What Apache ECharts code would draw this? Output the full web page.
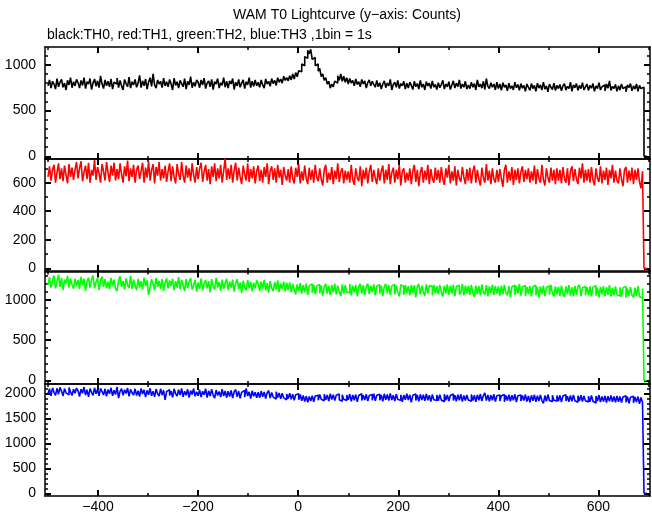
<!DOCTYPE html>
<html>
<head>
<meta charset="utf-8">
<script src="https://cdn.jsdelivr.net/npm/echarts@6/dist/echarts.min.js"></script>
<style>
html,body{margin:0;padding:0;background:#fff;}
#chart{width:652px;height:515px;}
</style>
</head>
<body>
<div id="chart"></div>
<script>
// Time bins: first bin start (s) and bin width used for the typed values below
const binStart = -500;
const binWidth = 3;

// TH0 (black) counts
const th0 = [
770,835,745,820,790,735,850,760,810,840,755,800,725,830,780,860,750,815,770,840,
805,745,830,775,860,740,815,790,850,730,800,845,765,825,750,880,790,740,835,770,
820,760,845,735,810,790,855,750,830,770,725,840,795,760,865,745,815,780,840,755,
800,885,750,825,770,845,735,810,860,765,900,780,745,835,790,820,750,855,770,815,
760,840,790,725,855,775,815,745,830,795,760,850,735,820,780,870,750,810,765,835,
810,750,835,780,855,740,800,825,760,840,730,815,790,850,745,805,775,860,755,820,
745,825,790,850,730,810,770,840,755,800,835,740,815,780,860,750,820,765,835,770,
810,755,835,780,745,845,790,820,765,850,795,830,775,860,810,845,800,875,830,860,
825,880,835,900,845,915,870,935,925,1010,990,1090,1070,1160,1120,1170,1060,1080,990,1010,
930,960,870,900,830,860,790,820,745,790,760,820,800,880,830,900,820,875,810,860,
790,850,800,830,770,845,785,815,760,840,790,825,745,805,835,770,820,785,755,830,
760,805,735,790,825,750,800,770,840,725,785,810,755,830,740,795,770,820,735,800,
745,810,775,730,820,760,795,735,830,755,790,725,815,770,800,740,825,755,785,730,
805,750,785,830,735,790,760,815,730,780,825,745,800,760,835,740,790,755,820,735,
780,740,810,755,795,725,835,760,790,745,820,730,850,765,740,805,755,790,725,810,
740,790,720,805,755,780,715,800,740,770,725,810,750,785,720,795,745,775,710,790,
755,720,795,740,775,710,800,745,780,725,810,735,770,705,790,755,730,800,720,775,
740,785,715,770,795,725,765,740,810,710,780,750,795,720,775,740,805,725,760,790,
720,775,745,795,710,770,740,805,725,760,780,715,790,745,825,720,765,740,785,710,
770,725,790,740,760,705,780,750,795,715,770,735,790,710,775,740,755,0,0,0
];

// TH1 (red) counts
const th1 = [
640,715,615,690,725,600,670,735,625,700,610,720,655,595,730,640,705,620,690,745,
630,700,750,610,675,720,625,740,600,690,650,760,620,710,665,600,730,680,615,745,
670,605,720,650,740,615,695,625,735,660,600,715,645,755,610,700,640,725,600,690,
720,625,680,740,600,705,635,750,615,690,730,595,710,650,745,615,695,630,720,605,
680,735,610,715,640,595,730,660,620,745,650,600,720,635,700,610,735,655,600,710,
625,700,740,605,680,725,615,695,590,715,640,735,610,700,630,725,600,680,770,620,
700,625,725,600,685,740,615,705,640,590,720,660,615,735,605,695,630,715,595,680,
720,610,690,600,710,640,735,590,680,715,620,700,600,725,635,690,585,710,650,615,
695,600,715,630,595,705,640,730,595,680,615,720,630,590,705,620,690,600,725,640,
610,700,625,580,690,725,600,670,620,710,590,685,625,735,605,675,700,595,685,620,
680,600,725,620,585,700,635,610,715,575,690,625,705,595,680,725,605,690,630,590,
700,615,680,720,595,690,620,730,590,670,705,600,690,625,725,580,680,700,600,670,
615,700,590,680,725,605,690,575,670,710,600,685,620,725,590,695,630,600,705,620,
690,600,710,625,585,700,635,725,595,680,615,715,580,690,630,605,710,640,590,695,
615,705,595,680,720,600,690,625,580,705,635,600,730,615,685,590,700,625,600,690,
605,695,630,570,690,725,600,680,615,710,585,690,620,700,595,675,715,605,690,625,
700,600,680,615,720,590,695,630,600,725,620,580,700,635,600,705,615,690,590,700,
615,690,595,710,630,600,700,580,680,715,610,695,625,590,705,630,735,600,690,615,
695,600,710,620,580,700,630,605,715,595,685,620,705,585,690,630,725,600,685,615,
595,700,625,575,690,710,600,685,615,705,590,690,620,700,605,560,680,0,0,0
];

// TH2 (green) counts
const th2 = [
1180,1280,1150,1250,1300,1140,1230,1310,1160,1270,1120,1250,1200,1295,1150,1265,1190,1135,1260,1170,
1245,1130,1285,1180,1260,1110,1230,1275,1150,1250,1300,1140,1220,1270,1120,1240,1285,1160,1255,1145,
1225,1130,1270,1170,1250,1140,1105,1240,1290,1160,1230,1125,1265,1185,1145,1295,1135,1250,1175,1120,
1260,1150,1230,1125,1275,1170,1240,1060,1150,1255,1195,1120,1270,1160,1235,1130,1255,1110,1215,1265,
1140,1240,1170,1260,1120,1230,1150,1280,1130,1245,1175,1110,1255,1145,1225,1270,1125,1180,1245,1100,
1215,1135,1265,1115,1200,1245,1140,1230,1095,1255,1170,1125,1270,1150,1220,1110,1250,1135,1210,1260,
1120,1225,1150,1250,1100,1205,1255,1130,1215,1085,1235,1150,1115,1245,1145,1225,1105,1210,1140,1240,
1200,1110,1225,1130,1245,1115,1205,1090,1230,1145,1105,1220,1125,1240,1095,1200,1135,1225,1105,1210,
1120,1215,1095,1195,1125,1065,1190,1105,1205,1075,1180,1090,1200,1060,1175,1195,1085,1185,1070,1170,
1190,1080,1175,1050,1160,1195,1075,1170,1060,1185,1090,1200,1065,1175,1100,1045,1190,1080,1180,1095,
1085,1195,1055,1175,1090,1185,1040,1165,1195,1075,1180,1060,1165,1200,1070,1175,1090,1190,1055,1170,
1185,1075,1175,1045,1165,1195,1080,1180,1060,1170,1190,1065,1175,1090,1040,1185,1165,1060,1180,1080,
1170,1055,1185,1085,1180,1030,1165,1195,1065,1175,1090,1050,1190,1075,1175,1165,1055,1185,1080,1170,
1065,1180,1090,1040,1175,1080,1190,1060,1170,1075,1185,1045,1165,1180,1065,1090,1195,1055,1175,1080,
1170,1060,1185,1080,1035,1175,1070,1170,1055,1190,1090,1065,1180,1040,1165,1085,1185,1060,1170,1075,
1165,1050,1175,1065,1185,1085,1055,1170,1030,1160,1180,1060,1170,1075,1195,1050,1160,1175,1045,1155,
1070,1170,1040,1160,1180,1055,1155,1025,1165,1070,1175,1045,1155,1170,1060,1185,1075,1040,1165,1065,
1160,1045,1175,1065,1035,1165,1070,1180,1050,1155,1040,1170,1060,1160,1185,1045,1150,1165,1055,1155,
1055,1165,1040,1155,1175,1050,1150,1030,1160,1065,1170,1045,1155,1060,1180,1040,1150,1055,1165,1060,
1045,1155,1035,1150,1165,1025,1140,1045,1160,1055,1030,1150,1045,1170,1040,1020,1140,0,0,0
];

// TH3 (blue) counts
const th3 = [
1990,2090,1950,2110,2020,1960,2100,1980,2120,2040,1945,2095,2010,1970,2115,2030,1955,2080,2000,2105,
2050,1935,2085,2000,2125,1965,2070,1930,2095,2020,1960,2110,1990,2080,1950,2100,2035,1965,2090,1940,
2075,1990,2110,1950,2060,1975,2130,1905,2040,2095,1960,2070,1995,2105,1940,2080,2010,1965,2090,1955,
2050,1935,2095,1985,2070,1925,2060,1970,2100,1950,2040,1930,2085,1990,1945,2090,1965,2060,1870,2035,
2075,1955,2040,1920,2090,1990,1945,2070,1965,2100,1930,2040,1960,2080,1915,2055,1975,2095,1940,2030,
1950,2070,1925,2040,1970,2090,1915,2050,1945,2080,1965,1905,2065,1955,2035,1925,2085,1945,2045,1915,
2040,1935,2060,1905,2030,2075,1930,2045,1900,2020,2060,1925,2100,1945,2030,1895,2050,1940,2020,1910,
2020,1910,2045,1930,2025,1895,2010,2055,1905,2015,1925,1885,2030,1915,2005,1890,2000,1910,1870,1985,
1895,2000,1880,1980,1860,1970,1990,1870,1975,1850,1955,1835,1940,1820,1935,1845,1950,1830,1945,1960,
1860,1975,1880,1850,1980,1870,1965,1845,1990,1875,1970,1855,1960,1985,1870,1840,1970,1880,1855,1965,
1870,1985,1840,1965,1860,1975,1830,1955,1990,1855,1960,1865,1980,1845,1955,1975,1860,1995,1850,1960,
1980,1860,1965,1840,1990,1870,1975,1855,2000,1865,1960,1845,1985,1875,1860,1970,1830,1965,1870,1990,
1865,1970,1820,1960,1985,1855,1965,1840,1980,1865,1970,1850,1990,1860,1960,1835,1975,1870,1855,1965,
1850,1970,1865,1830,1980,1860,1965,1845,1955,1985,1855,1960,1840,1970,1860,1980,1835,1955,1855,1965,
1865,1840,1975,1855,1960,1830,1970,1860,1985,1845,1955,2010,1855,1965,1840,1960,1860,1980,1835,1950,
1965,1845,1950,1975,1830,1955,1855,1970,1840,1960,1860,1980,1825,1950,1965,1845,1955,1855,1975,1835,
1945,1820,1960,1850,1970,1830,1950,1845,1965,1855,1800,1955,1840,1975,1855,1830,1960,1860,1845,1955,
1840,1960,1825,1945,1970,1845,1940,1830,1955,1840,1965,1850,1820,1950,1845,1960,1835,1945,1850,1825,
1940,1830,1955,1840,1805,1945,1845,1965,1825,1935,1835,1950,1815,1940,1840,1955,1830,1935,1820,1945,
1830,1935,1815,1925,1950,1820,1930,1800,1920,1940,1810,1925,1825,1935,1790,1915,1815,0,0,0
];

const seriesNames = ['TH0', 'TH1', 'TH2', 'TH3'];
const seriesValues = [th0, th1, th2, th3];
const seriesColors = ['#000000', '#ff0000', '#00ff00', '#0000ff'];

// Axis ranges and tick values
const xRange = [-506, 703];
const xMajorTicks = [-400, -200, 0, 200, 400, 600];
const xMinorTicks = [-500, -300, -100, 100, 300, 500, 700];
const yRanges = [[-30, 1195], [-19, 766], [-46, 1350], [-54, 2186]];
const yMajorTicks = [
  [0, 500, 1000],
  [0, 200, 400, 600],
  [0, 500, 1000],
  [0, 500, 1000, 1500, 2000]
];
const yMinorTicks = [
  [100, 200, 300, 400, 600, 700, 800, 900, 1100],
  [100, 300, 500, 700],
  [100, 200, 300, 400, 600, 700, 800, 900, 1100, 1200, 1300],
  [100, 200, 300, 400, 600, 700, 800, 900, 1100, 1200, 1300, 1400, 1600, 1700, 1800, 1900, 2100]
];

const gridTops = [47, 159, 271.5, 384];
const gridHeights = [112, 112, 112.5, 112];
const FONT = 'Liberation Sans, Arial, Helvetica, sans-serif';
const fmt = v => String(v).replace('-', '\u2212');

const grids = [], xAxes = [], yAxes = [], series = [];
for (let i = 0; i < 4; i++) {
  grids.push({left: 45, right: 2, top: gridTops[i], height: gridHeights[i],
    containLabel: false, outerBoundsMode: 'none'});
  const baseX = {
    type: 'value', gridIndex: i, min: xRange[0], max: xRange[1],
    splitLine: {show: false}, axisPointer: {show: false}
  };
  const baseY = {
    type: 'value', gridIndex: i, min: yRanges[i][0], max: yRanges[i][1],
    splitLine: {show: false}, axisPointer: {show: false}
  };
  const lineOn = {show: true, onZero: false, lineStyle: {color: '#000', width: 1.5}};
  const lineOff = {show: false, onZero: false};
  [['bottom', true], ['top', false]].forEach(([pos, labelled]) => {
    xAxes.push(Object.assign({}, baseX, {
      position: pos, axisLine: lineOn,
      axisTick: {show: true, inside: true, length: 6, customValues: xMajorTicks,
        lineStyle: {color: '#000', width: 2}},
      axisLabel: {show: labelled && i === 3, customValues: xMajorTicks, margin: 4,
        color: '#000', fontSize: 14, fontFamily: FONT, formatter: fmt}
    }));
    xAxes.push(Object.assign({}, baseX, {
      position: pos, axisLine: lineOff,
      axisTick: {show: true, inside: true, length: 3, customValues: xMinorTicks,
        lineStyle: {color: '#000', width: 1.5}},
      axisLabel: {show: false}
    }));
  });
  [['left', true], ['right', false]].forEach(([pos, labelled]) => {
    yAxes.push(Object.assign({}, baseY, {
      position: pos, axisLine: lineOn,
      axisTick: {show: true, inside: true, length: 6, customValues: yMajorTicks[i],
        lineStyle: {color: '#000', width: 2}},
      axisLabel: {show: labelled, customValues: yMajorTicks[i], margin: 9,
        color: '#000', fontSize: 14, fontFamily: FONT, formatter: fmt}
    }));
    yAxes.push(Object.assign({}, baseY, {
      position: pos, axisLine: lineOff,
      axisTick: {show: true, inside: true, length: 3, customValues: yMinorTicks[i],
        lineStyle: {color: '#000', width: 1.5}},
      axisLabel: {show: false}
    }));
  });
  series.push({
    name: seriesNames[i], type: 'line', step: 'end',
    xAxisIndex: i * 4, yAxisIndex: i * 4,
    showSymbol: false, symbol: 'none', clip: true,
    lineStyle: {color: seriesColors[i], width: 1.6},
    itemStyle: {color: seriesColors[i]},
    data: seriesValues[i].map((v, k) => [binStart + k * binWidth, v])
  });
}

const chart = echarts.init(document.getElementById('chart'), null, {renderer: 'canvas'});
chart.setOption({
  animation: false,
  backgroundColor: '#ffffff',
  grid: grids,
  xAxis: xAxes,
  yAxis: yAxes,
  series: series,
  graphic: [
    {type: 'text', x: 347, y: 8, style: {text: 'WAM T0 Lightcurve (y\u2212axis: Counts)',
      font: '14px ' + FONT, fill: '#000', textAlign: 'center'}},
    {type: 'text', x: 47, y: 28, style: {text: 'black:TH0, red:TH1, green:TH2, blue:TH3 ,1bin = 1s',
      font: '14px ' + FONT, fill: '#000', textAlign: 'left'}}
  ]
});
</script>
</body>
</html>
